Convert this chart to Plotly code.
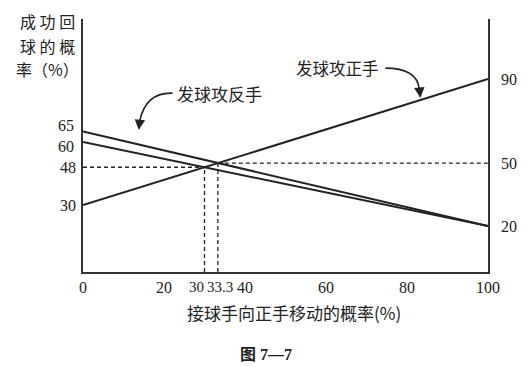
import plotly.graph_objects as go

# ---- data ----
x_prob = [0, 100]                 # 接球手向正手移动的概率(%)
forehand = [30, 90]               # 发球攻正手
backhand_a = [65, 20]             # 发球攻反手 (upper line)
backhand_b = [60, 20]             # 发球攻反手 (lower line)
eq_x = [30, 33.3]                 # equilibrium probabilities
eq_y = [48, 50]                   # success rate at equilibrium
x_ticks = [0, 20, 40, 60, 80, 100]
left_ticks = [30, 48]             # 65 and 60 are labelled beside their line starts
left_start_labels = [65, 60]
right_ticks = [20, 50, 90]

Y_RANGE = [-1.9, 118.6]
X_RANGE = [0, 100]

SERIF = "Liberation Serif, Noto Sans CJK SC, serif"
CJK = "Noto Sans CJK SC, Liberation Serif, sans-serif"
INK = "#222222"

fig = go.Figure()

solid = dict(color=INK, width=2)
dashed = dict(color=INK, width=1.3, dash="4px,3px")

fig.add_trace(go.Scatter(x=x_prob, y=backhand_a, mode="lines", line=solid, name="发球攻反手", hoverinfo="skip"))
fig.add_trace(go.Scatter(x=x_prob, y=backhand_b, mode="lines", line=solid, name="发球攻反手", hoverinfo="skip"))
fig.add_trace(go.Scatter(x=x_prob, y=forehand, mode="lines", line=solid, name="发球攻正手", hoverinfo="skip"))

# dashed guides at the two crossing points
fig.add_trace(go.Scatter(x=[X_RANGE[0], eq_x[0]], y=[eq_y[0], eq_y[0]], mode="lines", line=dashed, hoverinfo="skip"))
fig.add_trace(go.Scatter(x=[eq_x[0], eq_x[0]], y=[Y_RANGE[0], eq_y[0]], mode="lines", line=dashed, hoverinfo="skip"))
fig.add_trace(go.Scatter(x=[eq_x[1], eq_x[1]], y=[Y_RANGE[0], eq_y[1]], mode="lines", line=dashed, hoverinfo="skip"))
fig.add_trace(go.Scatter(x=[eq_x[1], X_RANGE[1]], y=[eq_y[1], eq_y[1]], mode="lines", line=dashed,
                         hoverinfo="skip", yaxis="y2"))

# curved pointer arrows
fig.add_shape(type="path", xref="x", yref="y", path="M 22.1,83.3 Q 15.5,83.8 14.0,70.0",
              line=dict(color=INK, width=1.6))
fig.add_shape(type="path", xref="x", yref="y", path="M 74.7,95.2 Q 82.3,95.2 83.0,85.7",
              line=dict(color=INK, width=1.6))

ann = []
ann.append(dict(x=13.76, y=65.7, xref="x", yref="y", ax=1, ay=-9,
                text="", showarrow=True, arrowhead=2, arrowsize=1.3, arrowwidth=1.6, arrowcolor=INK))
ann.append(dict(x=83.3, y=81.0, xref="x", yref="y", ax=-1, ay=-10,
                text="", showarrow=True, arrowhead=2, arrowsize=1.3, arrowwidth=1.6, arrowcolor=INK))
ann.append(dict(x=22.7, y=83.3, xref="x", yref="y", xanchor="left", yanchor="middle", showarrow=False,
                text="发球攻反手", font=dict(family=CJK, size=17, color=INK)))
ann.append(dict(x=73.6, y=95.2, xref="x", yref="y", xanchor="right", yanchor="middle", showarrow=False,
                text="发球攻正手", font=dict(family=CJK, size=16.5, color=INK)))

# left labels for the two line starts (spread apart slightly, as in the original)
for val, shift in zip(left_start_labels, [6, -4]):
    ann.append(dict(x=0, y=val, xref="paper", yref="y", xanchor="right", yanchor="middle",
                    xshift=-7, yshift=shift, showarrow=False, text=str(val),
                    font=dict(family=SERIF, size=16, color=INK)))

# x tick labels for the two crossing points (placed side by side as in the original)
ann.append(dict(x=eq_x[0], y=0, xref="x", yref="paper", xanchor="right", yanchor="top", xshift=1, yshift=-5,
                showarrow=False, text=f"{eq_x[0]:g}", font=dict(family=SERIF, size=15, color=INK)))
ann.append(dict(x=eq_x[1], y=0, xref="x", yref="paper", xanchor="left", yanchor="top", xshift=-12.5, yshift=-5,
                showarrow=False, text=f"{eq_x[1]:g}", font=dict(family=SERIF, size=15, color=INK)))

# axis titles and caption
ann.append(dict(x=-0.088, y=0.992, xref="paper", yref="paper", xanchor="center", yanchor="middle",
                showarrow=False, text="成 功 回", font=dict(family=CJK, size=16, color=INK)))
ann.append(dict(x=-0.088, y=0.893, xref="paper", yref="paper", xanchor="center", yanchor="middle",
                showarrow=False, text="球 的 概", font=dict(family=CJK, size=16, color=INK)))
ann.append(dict(x=-0.088, y=0.804, xref="paper", yref="paper", xanchor="center", yanchor="middle",
                showarrow=False, text="率（%）", font=dict(family=CJK, size=16, color=INK)))
ann.append(dict(x=0.521, y=-0.162, xref="paper", yref="paper", xanchor="center", yanchor="middle",
                showarrow=False, text="接球手向正手移动的概率(%)", font=dict(family=CJK, size=17, color=INK)))
ann.append(dict(x=0.452, y=-0.328, xref="paper", yref="paper", xanchor="center", yanchor="middle",
                showarrow=False, text="<b>图 7—7</b>", font=dict(family=SERIF, size=16, color=INK)))

axis_line = dict(showline=True, linecolor="#333333", linewidth=1.8, showgrid=False, zeroline=False,
                 ticks="", tickfont=dict(family=SERIF, size=16, color=INK))

# the page body adds an 8px offset, so the figure is 8px smaller and margins shifted by 8
fig.update_layout(
    width=520, height=359,
    margin=dict(l=75, r=38, t=11, b=95),
    paper_bgcolor="white", plot_bgcolor="white",
    showlegend=False,
    xaxis=dict(range=X_RANGE, tickvals=x_ticks, ticklabelstandoff=0, **axis_line),
    yaxis=dict(range=Y_RANGE, tickvals=left_ticks, ticklabelstandoff=2, **axis_line),
    yaxis2=dict(range=Y_RANGE, tickvals=right_ticks, overlaying="y", side="right",
                ticklabelstandoff=8, **axis_line),
    annotations=ann,
)

fig.write_html("out.html")
